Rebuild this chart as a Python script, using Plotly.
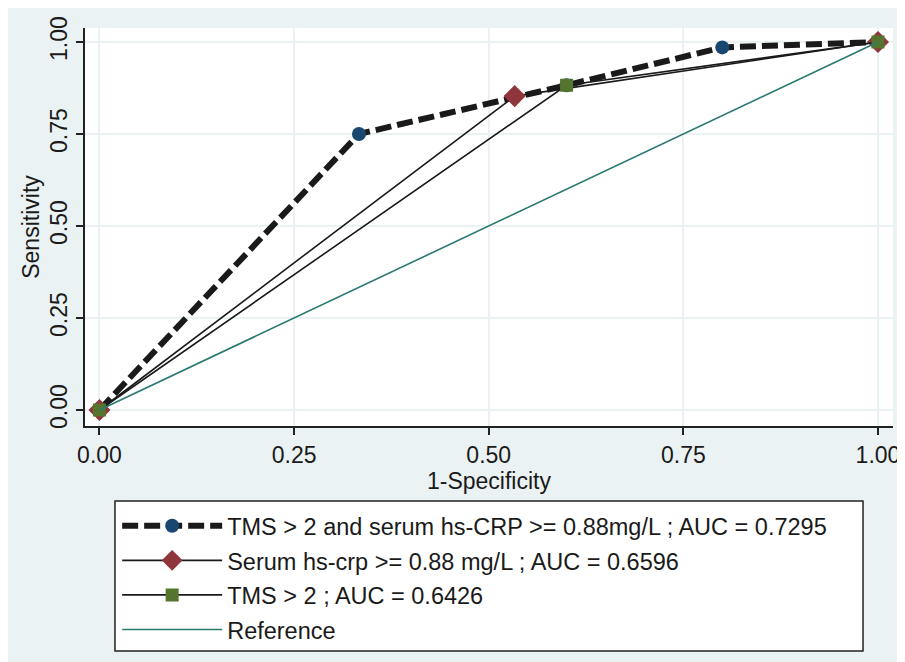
import plotly.graph_objects as go

# ---- data ----
combo_x = [0.0, 0.3333, 0.6, 0.8, 1.0]
combo_y = [0.0, 0.75, 0.8824, 0.9853, 1.0]
crp_x = [0.0, 0.5333, 1.0]
crp_y = [0.0, 0.8529, 1.0]
tms_x = [0.0, 0.6, 1.0]
tms_y = [0.0, 0.8824, 1.0]
ref_x = [0.0, 1.0]
ref_y = [0.0, 1.0]

names = [
    "TMS > 2 and serum hs-CRP >= 0.88mg/L ; AUC = 0.7295",
    "Serum hs-crp >= 0.88 mg/L ; AUC = 0.6596",
    "TMS > 2 ; AUC = 0.6426",
    "Reference",
]
ticks = [0, 0.25, 0.5, 0.75, 1.0]
tick_text = ["0.00", "0.25", "0.50", "0.75", "1.00"]

BG = "#EAF2F3"
FONT = "Liberation Sans, Arial, sans-serif"
TXT = "#1a1a1a"

fig = go.Figure()
fig.add_trace(go.Scatter(
    x=combo_x, y=combo_y, name=names[0], mode="lines+markers",
    line=dict(color="#1a1a1a", width=6, dash="16px,6px"),
    marker=dict(symbol="circle", size=14, color="#1a476f"),
    legendgroup="a"))
fig.add_trace(go.Scatter(
    x=crp_x, y=crp_y, name=names[1], mode="lines+markers",
    line=dict(color="#1a1a1a", width=1.6),
    marker=dict(symbol="diamond", size=17, color="#90353b"),
    legendgroup="b"))
fig.add_trace(go.Scatter(
    x=tms_x, y=tms_y, name=names[2], mode="lines+markers",
    line=dict(color="#1a1a1a", width=1.6),
    marker=dict(symbol="square", size=13, color="#55752f"),
    legendgroup="c"))
fig.add_trace(go.Scatter(
    x=ref_x, y=ref_y, name=names[3], mode="lines",
    line=dict(color="#2a7a70", width=1.6),
    legendgroup="d"))

axis_common = dict(
    tickvals=ticks, ticktext=tick_text, automargin=False,
    showgrid=True, gridcolor=BG, gridwidth=2,
    zeroline=False, showline=True, linecolor="#222222", linewidth=2,
    ticks="outside", ticklen=7, tickcolor="#222222", tickwidth=1.5,
    tickfont=dict(family=FONT, size=23, color=TXT),
)

fig.update_xaxes(range=[-0.0186, 1.0193], title=dict(text="1-Specificity",
                 font=dict(family=FONT, size=23, color=TXT), standoff=0),
                 **axis_common)
fig.update_yaxes(range=[-0.0435, 1.038], tickangle=-90,
                 title=dict(text="Sensitivity",
                            font=dict(family=FONT, size=23, color=TXT), standoff=0),
                 **axis_common)

shapes = [
    # legend box
    dict(type="rect", xref="paper", yref="paper", x0=0.0371, x1=0.9629,
         y0=-0.5653, y1=-0.1884, fillcolor="white",
         line=dict(color="#222222", width=1.5), layer="below"),
]

fig.update_layout(
    width=905, height=662,
    margin=dict(l=77, r=20, t=20, b=244),
    paper_bgcolor=BG, plot_bgcolor="white",
    shapes=shapes,
    showlegend=True,
    legend=dict(
        x=0.0398, y=-0.196, xanchor="left", yanchor="top",
        orientation="v", bgcolor="rgba(0,0,0,0)", borderwidth=0,
        font=dict(family=FONT, size=23.5, color=TXT),
        traceorder="grouped", tracegroupgap=1, itemwidth=100,
    ),
)

fig.write_html("out.html")
